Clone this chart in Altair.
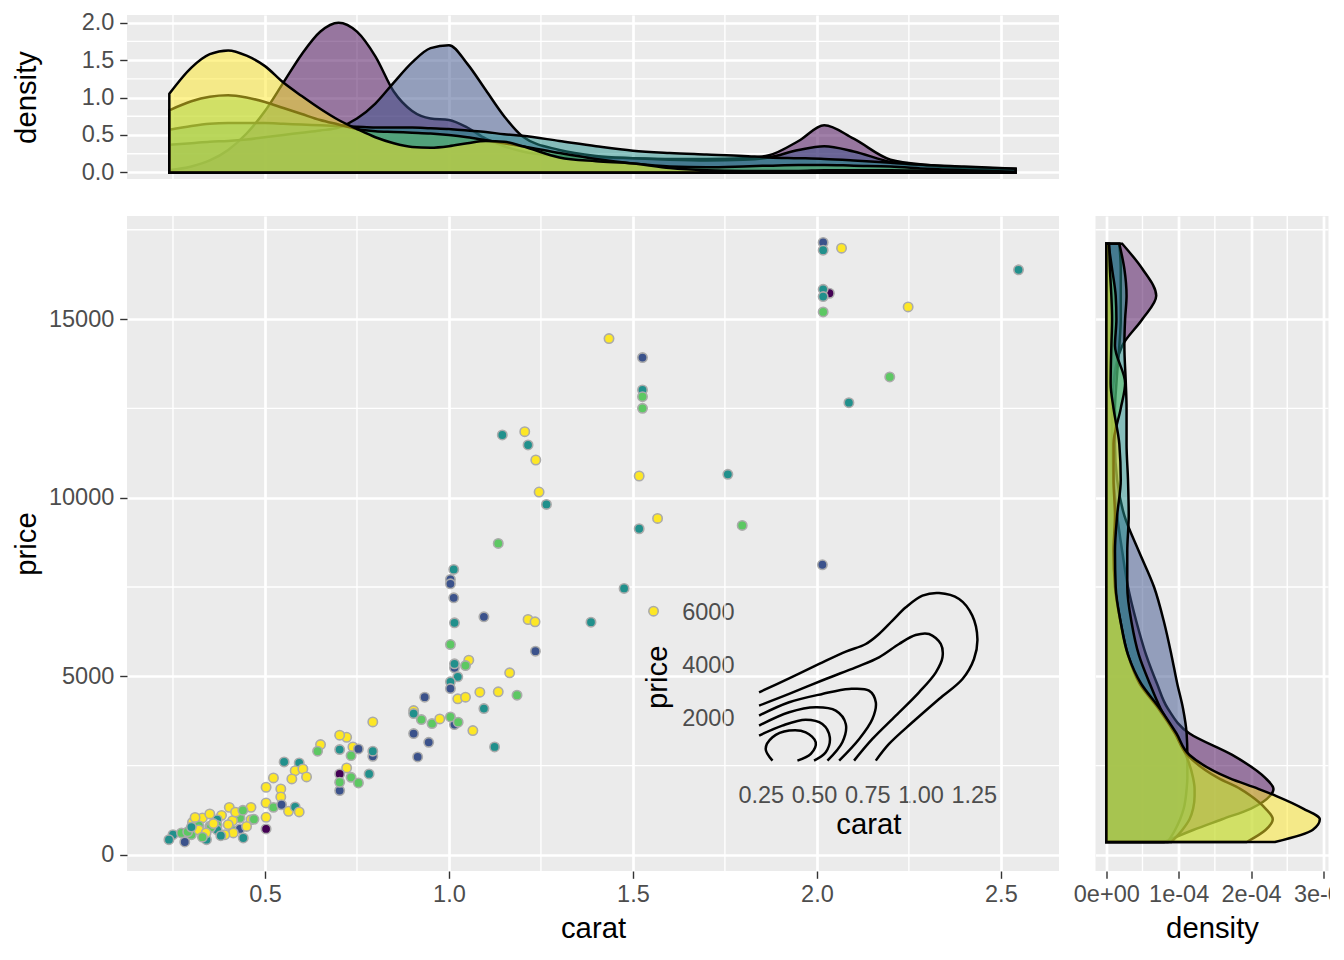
import altair as alt
import pandas as pd

FONT = "Liberation Sans, Arial, sans-serif"

cuts = ["Fair", "Good", "Very Good", "Premium", "Ideal"]
cut_colors = ["#440154", "#3B528B", "#21908C", "#5DC863", "#FDE725"]
cut_names = {"F": "Fair", "G": "Good", "V": "Very Good", "P": "Premium", "I": "Ideal"}

# ---------------- scatter points (carat, price, cut) ----------------
pt_carat = [
    2.017, 2.017, 2.067, 2.548, 2.034, 2.017, 2.017, 2.017, 2.248, 1.435,
    1.526, 1.526, 1.526, 1.526, 2.198, 2.087, 1.517, 1.758, 1.567, 1.517,
    1.797, 2.015, 1.145, 1.206, 1.215, 1.236, 1.245, 1.265, 1.134, 1.013,
    1.004, 1.004, 1.013, 1.476, 1.556, 1.095, 1.015, 1.215, 1.234, 1.386,
    1.004, 1.235, 1.054, 1.045, 1.015, 1.015, 1.024, 1.004, 1.004, 1.165,
    0.934, 1.024, 1.045, 1.084, 1.134, 1.185, 1.095, 0.904, 0.904, 0.925,
    0.954, 0.975, 1.015, 1.004, 1.025, 1.065, 1.124, 0.904, 0.945, 0.915,
    0.793, 0.722, 0.703, 0.739, 0.703, 0.754, 0.793, 0.793, 0.734, 0.651,
    0.643, 0.722, 0.703, 0.734, 0.783, 0.703, 0.703, 0.754, 0.552, 0.593,
    0.582, 0.603, 0.613, 0.573, 0.523, 0.503, 0.543, 0.543, 0.503, 0.523,
    0.545, 0.564, 0.582, 0.593, 0.503, 0.503, 0.462, 0.462, 0.432, 0.403,
    0.412, 0.414, 0.432, 0.414, 0.441, 0.382, 0.37, 0.37, 0.37, 0.35,
    0.33, 0.303, 0.32, 0.353, 0.30, 0.391, 0.341, 0.282, 0.25, 0.239,
    0.273, 0.31, 0.32, 0.29, 0.36, 0.34, 0.40, 0.30, 0.33, 0.38,
    0.45, 0.42, 0.35, 0.44, 0.47,
]
pt_price = [
    17143, 16927, 16983, 16377, 15722, 15833, 15629, 15200, 15340, 14453,
    13921, 13016, 12828, 12501, 13380, 12660, 10607, 10653, 9420, 9131,
    9224, 8123, 11755, 11848, 11475, 11055, 10159, 9812, 8720, 7991,
    7711, 7590, 7198, 7459, 6824, 6666, 6498, 6591, 6526, 6517,
    5891, 5704, 5453, 5303, 5238, 5350, 4986, 4846, 4658, 5098,
    4417, 4370, 4417, 4557, 4566, 4473, 4099, 4042, 3958, 3790,
    3678, 3809, 3650, 3865, 3717, 3482, 3025, 3398, 3155, 2745,
    3725, 3295, 3352, 3025, 2950, 2969, 2763, 2904, 2781, 3090,
    2904, 2437, 2269, 2175, 2269, 1802, 2036, 2017, 2605, 2577,
    2358, 2409, 2185, 2129, 2157, 1896, 1849, 1625, 1457, 1333,
    1406, 1224, 1345, 1205, 1056, 728, 1333, 989, 1036, 1333,
    961, 681, 728, 616, 476, 1109, 990, 829, 706, 804,
    1036, 915, 821, 775, 569, 569, 429, 364, 569, 429,
    616, 1050, 700, 650, 880, 620, 850, 780, 500, 540,
    800, 1200, 1150, 1250, 1000,
]
pt_cut = [
    "G", "V", "I", "V", "F", "V", "V", "P", "I", "I",
    "G", "V", "P", "P", "P", "V", "I", "V", "I", "V",
    "P", "G", "V", "I", "V", "I", "I", "V", "P", "V",
    "G", "G", "G", "V", "I", "G", "V", "I", "I", "V",
    "P", "G", "I", "P", "G", "V", "V", "V", "G", "I",
    "G", "I", "I", "I", "I", "P", "V", "I", "V", "P",
    "P", "I", "G", "P", "P", "I", "V", "G", "G", "G",
    "I", "I", "I", "I", "V", "G", "G", "V", "P", "I",
    "P", "I", "F", "P", "V", "G", "P", "P", "V", "V",
    "I", "I", "I", "I", "I", "I", "I", "I", "I", "P",
    "G", "I", "V", "I", "I", "F", "I", "I", "P", "I",
    "I", "P", "G", "I", "V", "I", "V", "P", "V", "P",
    "I", "I", "P", "P", "P", "I", "V", "G", "V", "V",
    "P", "I", "I", "P", "I", "I", "I", "V", "P", "V",
    "I", "I", "I", "P", "P",
]

# ---------------- top marginal densities (density over carat) ----------------
dens_carat = [0.24, 0.3, 0.35, 0.4, 0.45, 0.5, 0.55, 0.6, 0.65, 0.7, 0.75, 0.8,
              0.85, 0.9, 0.95, 1.0, 1.05, 1.1, 1.15, 1.2, 1.3, 1.4, 1.5, 1.6,
              1.7, 1.8, 1.87, 1.95, 2.02, 2.1, 2.2, 2.3, 2.4, 2.54]
top_fair = [0.03, 0.08, 0.16, 0.3, 0.52, 0.82, 1.2, 1.58, 1.88, 2.0, 1.88, 1.55,
            1.08, 0.82, 0.72, 0.7, 0.6, 0.45, 0.35, 0.28, 0.22, 0.2, 0.19, 0.18,
            0.18, 0.19, 0.23, 0.42, 0.63, 0.45, 0.17, 0.1, 0.07, 0.05]
top_good = [0.37, 0.39, 0.41, 0.42, 0.44, 0.47, 0.5, 0.53, 0.56, 0.6, 0.72, 0.92,
            1.2, 1.47, 1.66, 1.7, 1.45, 1.1, 0.75, 0.48, 0.3, 0.22, 0.19, 0.17,
            0.16, 0.17, 0.2, 0.3, 0.35, 0.28, 0.14, 0.09, 0.06, 0.04]
top_verygood = [0.57, 0.62, 0.65, 0.66, 0.66, 0.66, 0.65, 0.64, 0.63, 0.62, 0.61, 0.6,
                0.6, 0.6, 0.59, 0.58, 0.56, 0.54, 0.51, 0.49, 0.42, 0.35, 0.29, 0.26,
                0.24, 0.22, 0.2, 0.19, 0.18, 0.16, 0.13, 0.1, 0.08, 0.05]
top_premium = [0.83, 0.95, 1.01, 1.03, 1.0, 0.94, 0.86, 0.78, 0.7, 0.64, 0.58, 0.55,
               0.54, 0.53, 0.52, 0.5, 0.47, 0.43, 0.39, 0.35, 0.26, 0.18, 0.12, 0.08,
               0.07, 0.08, 0.09, 0.1, 0.1, 0.09, 0.08, 0.05, 0.03, 0.01]
top_ideal = [1.05, 1.4, 1.58, 1.63, 1.56, 1.42, 1.2, 1.02, 0.85, 0.7, 0.58, 0.47,
             0.39, 0.34, 0.33, 0.35, 0.39, 0.42, 0.41, 0.35, 0.2, 0.15, 0.12, 0.06,
             0.03, 0.02, 0.02, 0.02, 0.03, 0.03, 0.03, 0.02, 0.01, 0.0]

# ---------------- right marginal densities (density over price, in 1e-04) ----------------
dens_price = [364, 700, 1000, 1300, 1650, 1850, 2150, 2800, 3400, 4100, 4800, 5600,
              6500, 7500, 8500, 9500, 10500, 11500, 12500, 13200, 14250, 15000,
              15650, 16400, 17108]
right_fair = [0.8, 1.2, 1.6, 2.0, 2.26, 2.31, 2.2, 1.74, 1.15, 0.85, 0.7, 0.55,
              0.42, 0.3, 0.22, 0.15, 0.1, 0.08, 0.08, 0.1, 0.22, 0.5, 0.69, 0.5, 0.22]
right_good = [0.85, 0.95, 1.02, 1.07, 1.1, 1.11, 1.12, 1.12, 1.11, 1.06, 0.98, 0.9,
              0.8, 0.66, 0.45, 0.25, 0.15, 0.12, 0.12, 0.14, 0.18, 0.2, 0.2, 0.2, 0.18]
right_verygood = [0.9, 1.05, 1.15, 1.2, 1.22, 1.22, 1.2, 1.1, 0.95, 0.75, 0.6, 0.45,
                  0.35, 0.29, 0.29, 0.31, 0.3, 0.28, 0.28, 0.27, 0.25, 0.26, 0.28, 0.25, 0.18]
right_premium = [1.94, 2.2, 2.3, 2.2, 2.0, 1.85, 1.55, 1.12, 0.95, 0.72, 0.46, 0.3,
                 0.2, 0.12, 0.1, 0.12, 0.1, 0.1, 0.2, 0.26, 0.12, 0.14, 0.13, 0.08, 0.03]
right_ideal = [2.33, 2.85, 2.95, 2.72, 2.35, 2.1, 1.7, 1.15, 0.97, 0.74, 0.48, 0.3,
               0.2, 0.13, 0.12, 0.15, 0.2, 0.18, 0.1, 0.06, 0.07, 0.08, 0.07, 0.05, 0.04]

# ---------------- inset 2-D density contour lines ----------------
c1_carat = [0.242, 0.383, 0.524, 0.649, 0.743, 0.805, 0.868, 0.931, 1.009, 1.087,
            1.181, 1.243, 1.267, 1.251, 1.197, 1.087, 0.962, 0.852, 0.79]
c1_price = [3000, 3525, 4063, 4525, 4813, 5188, 5688, 6188, 6625, 6725,
            6500, 5875, 5000, 4250, 3500, 2750, 1875, 1063, 437]
c2_carat = [0.242, 0.383, 0.555, 0.696, 0.805, 0.899, 0.977, 1.04, 1.095, 1.103,
            1.072, 0.993, 0.884, 0.774, 0.688]
c2_price = [2500, 2938, 3500, 3938, 4313, 4813, 5150, 5188, 4813, 4313,
            3750, 3000, 2125, 1250, 437]
c3_carat = [0.242, 0.383, 0.539, 0.665, 0.758, 0.79, 0.774, 0.712, 0.618]
c3_price = [2125, 2625, 2938, 3125, 3063, 2625, 2000, 1250, 437]
c4_carat = [0.242, 0.383, 0.508, 0.602, 0.649, 0.633, 0.563]
c4_price = [1750, 2250, 2438, 2313, 1813, 1125, 437]
c5_carat = [0.242, 0.351, 0.461, 0.539, 0.574, 0.555, 0.5]
c5_price = [1375, 1750, 1975, 1813, 1313, 750, 437]
c6_carat = [0.305, 0.273, 0.305, 0.383, 0.461, 0.508, 0.485, 0.422]
c6_price = [437, 875, 1313, 1563, 1500, 1125, 688, 437]

# ---------------- ticks / grid values ----------------
carat_major = [0.5, 1.0, 1.5, 2.0, 2.5]
carat_minor = [0.25, 0.75, 1.25, 1.75, 2.25]
price_major = [0, 5000, 10000, 15000]
price_minor = [2500, 7500, 12500, 17500]
dens_major = [0, 0.5, 1.0, 1.5, 2.0]
dens_minor = [0.25, 0.75, 1.25, 1.75]
pdens_major = [0, 1, 2, 3]
pdens_minor = [0.5, 1.5, 2.5]
inset_carat_ticks = [0.25, 0.5, 0.75, 1.0, 1.25]
inset_price_ticks = [2000, 4000, 6000]

# ---------------- build frames ----------------
pts = pd.DataFrame({"carat": pt_carat, "price": pt_price,
                    "cut": [cut_names[c] for c in pt_cut]})
top_curves = dict(zip(cuts, [top_fair, top_good, top_verygood, top_premium, top_ideal]))
right_curves = dict(zip(cuts, [right_fair, right_good, right_verygood, right_premium, right_ideal]))

cont_rows = []
for lvl, (cc, pp) in enumerate([(c1_carat, c1_price), (c2_carat, c2_price), (c3_carat, c3_price),
                                (c4_carat, c4_price), (c5_carat, c5_price), (c6_carat, c6_price)]):
    for i, (a, b) in enumerate(zip(cc, pp)):
        cont_rows.append({"level": lvl, "idx": i, "carat": a, "price": b})
cont = pd.DataFrame(cont_rows)

GRID_MINOR = 1.35
LINE_W = 2.5

x_scale = alt.Scale(domain=[0.125, 2.658], nice=False, zero=False)
p_scale = alt.Scale(domain=[-448, 17884], nice=False, zero=False)
d_scale = alt.Scale(domain=[-0.088, 2.103], nice=False, zero=False)
pd_scale = alt.Scale(domain=[-0.149, 3.07], nice=False, zero=False)

main_x_axis = alt.Axis(values=carat_major, format=".1f", title="carat",
                       labelPadding=4, titlePadding=9)
hidden_x_axis = alt.Axis(values=carat_major, labels=False, ticks=False, title=None)
main_y_axis = alt.Axis(values=price_major, format="d", title="price", labelPadding=5.9,
                       titlePadding=7, minExtent=79, maxExtent=79)
hidden_y_axis = alt.Axis(values=price_major, labels=False, ticks=False, title=None)
top_y_axis = alt.Axis(values=dens_major, format=".1f", title="density", labelPadding=5.9,
                      titlePadding=7, minExtent=79, maxExtent=79)
right_x_axis = alt.Axis(values=pdens_major,
                        labelExpr="datum.value == 0 ? '0e+00' : datum.value + 'e-04'",
                        title="density", labelPadding=4, titlePadding=9)


def vrules(vals, scale, axis):
    return alt.Chart(pd.DataFrame({"v": vals})).mark_rule(
        color="white", strokeWidth=GRID_MINOR).encode(
        x=alt.X("v:Q", scale=scale, axis=axis))


def hrules(vals, scale, axis):
    return alt.Chart(pd.DataFrame({"v": vals})).mark_rule(
        color="white", strokeWidth=GRID_MINOR).encode(
        y=alt.Y("v:Q", scale=scale, axis=axis))


# top marginal
top_layers = [vrules(carat_minor, x_scale, hidden_x_axis), hrules(dens_minor, d_scale, top_y_axis)]
for cut, col in zip(cuts, cut_colors):
    df = pd.DataFrame({"carat": dens_carat, "density": top_curves[cut]})
    top_layers.append(
        alt.Chart(df).mark_area(interpolate="monotone", fill=col, fillOpacity=0.5,
                                stroke="black", strokeWidth=LINE_W).encode(
            x=alt.X("carat:Q", scale=x_scale, axis=hidden_x_axis),
            y=alt.Y("density:Q", scale=d_scale, axis=top_y_axis, stack=None),
            y2=alt.Y2Datum(0)))
top = alt.layer(*top_layers).properties(width=932, height=164)

# main scatter
pts_layer = alt.Chart(pts).mark_circle(size=88, opacity=1, stroke="#ABABAB",
                                       strokeWidth=1.6).encode(
    x=alt.X("carat:Q", scale=x_scale, axis=main_x_axis),
    y=alt.Y("price:Q", scale=p_scale, axis=main_y_axis),
    color=alt.Color("cut:N", scale=alt.Scale(domain=cuts, range=cut_colors), legend=None))
base = alt.layer(vrules(carat_minor, x_scale, main_x_axis),
                 hrules(price_minor, p_scale, main_y_axis), pts_layer)

inset_x_axis = alt.Axis(orient="bottom", offset=-102, values=inset_carat_ticks, format=".2f",
                        ticks=False, tickSize=0, grid=False, domain=False,
                        labelPadding=14, title="carat", titlePadding=4)
inset_y_axis = alt.Axis(orient="left", offset=-621, values=inset_price_ticks, format="d",
                        ticks=False, tickSize=0, grid=False, domain=False,
                        labelPadding=14, title="price", titlePadding=9)
inset = alt.Chart(cont).mark_line(color="black", strokeWidth=LINE_W,
                                  interpolate="catmull-rom").encode(
    x=alt.X("carat:Q", scale=alt.Scale(domain=[0.19, 1.32], range=[621, 861.7],
                                       nice=False, zero=False), axis=inset_x_axis),
    y=alt.Y("price:Q", scale=alt.Scale(domain=[123, 7040], range=[553, 368.6],
                                       nice=False, zero=False), axis=inset_y_axis),
    detail="level:N", order="idx:Q")

main = alt.layer(base, inset).resolve_scale(x="independent", y="independent").properties(
    width=932, height=655)

# right marginal
right_layers = [vrules(pdens_minor, pd_scale, right_x_axis), hrules(price_minor, p_scale, hidden_y_axis)]
for cut, col in zip(cuts, cut_colors):
    df = pd.DataFrame({"price": dens_price, "dens": right_curves[cut]})
    right_layers.append(
        alt.Chart(df).mark_area(orient="horizontal", interpolate="monotone", fill=col,
                                fillOpacity=0.5, stroke="black", strokeWidth=LINE_W).encode(
            x=alt.X("dens:Q", scale=pd_scale, axis=right_x_axis, stack=None),
            x2=alt.X2Datum(0),
            y=alt.Y("price:Q", scale=p_scale, axis=hidden_y_axis)))
right = alt.layer(*right_layers).properties(width=233, height=655)

chart = alt.vconcat(top, alt.hconcat(main, right, spacing=12.5), spacing=31).properties(
    padding={"left": 4, "top": 2, "right": -24, "bottom": 0}
).configure_view(fill="#EBEBEB", strokeWidth=0).configure_axis(
    labelFont=FONT, titleFont=FONT, labelFontSize=23.5, titleFontSize=29.3,
    labelColor="#4D4D4D", titleColor="#000000", tickColor="#333333", tickSize=7.3,
    tickWidth=1.4, gridColor="#FFFFFF", gridWidth=2.7, domain=False,
    titleFontWeight="normal")

chart.save("out.html", embed_options={"renderer": "svg", "actions": False})
